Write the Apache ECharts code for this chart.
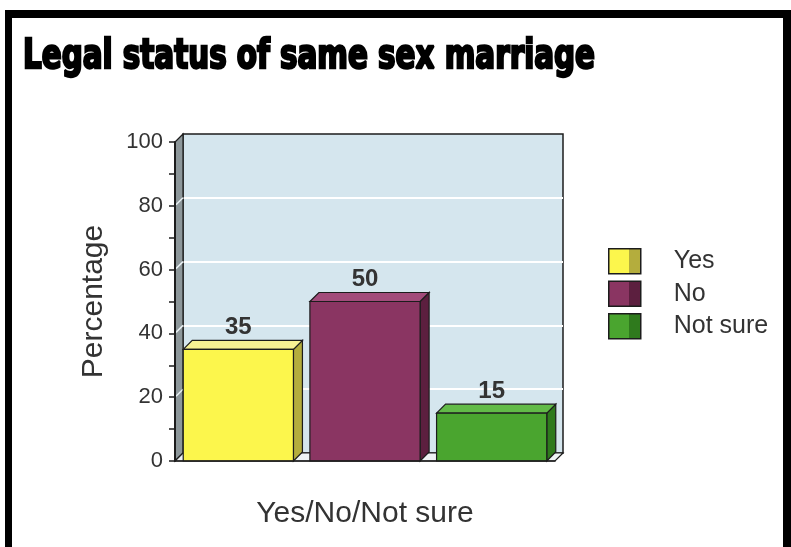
<!DOCTYPE html>
<html>
<head>
<meta charset="utf-8">
<title>Legal status of same sex marriage</title>
<script src="https://cdn.jsdelivr.net/npm/echarts@6/dist/echarts.min.js"></script>
<style>
  html, body { margin: 0; padding: 0; background: #fff; }
  #chart { width: 791px; height: 547px; }
</style>
</head>
<body>
<div id="chart"></div>
<script>
// ---- data ----
const titleText = 'Legal status of same sex marriage';
const categories = ['Yes', 'No', 'Not sure'];
const values = [35, 50, 15];
const yName = 'Percentage';
const xName = 'Yes/No/Not sure';
const yMin = 0;
const yMax = 100;
const yStep = 20;

// ---- styling ----
const faceColors = ['#fcf64c', '#8a3562', '#4aa52f'];
const topColors = ['#f7f193', '#a24b7a', '#62bb48'];
const sideColors = ['#b4ad3d', '#5c1f3f', '#2f7a1d'];
const ink = '#1c1c1c';
const textColor = '#333';
const sans = '"Liberation Sans", Arial, sans-serif';

// plot frame (front plane) and 3D depth
const plot = { left: 175, top: 142, width: 380, height: 319 };
const wallDepth = 8;
const barDepth = 9;
const barRatio = 0.87;

const chart = echarts.init(document.getElementById('chart'), null, { renderer: 'canvas' });

function swatch(i) {
  return new echarts.graphic.LinearGradient(0, 0, 1, 0, [
    { offset: 0, color: faceColors[i] },
    { offset: 0.62, color: faceColors[i] },
    { offset: 0.62, color: sideColors[i] },
    { offset: 1, color: sideColors[i] }
  ]);
}

function renderBox(params, api) {
  const i = params.seriesIndex;
  const top = api.coord([api.value(0), api.value(1)]);
  const base = api.coord([api.value(0), 0]);
  const bw = api.size([1, 0])[0] * barRatio;
  const x0 = top[0] - bw / 2;
  const x1 = x0 + bw;
  const y0 = top[1];
  const y1 = base[1];
  const d = barDepth;
  const edge = { stroke: ink, lineWidth: 1.2 };
  return {
    type: 'group',
    children: [
      { type: 'polygon', shape: { points: [[x1, y0], [x1 + d, y0 - d], [x1 + d, y1 - d], [x1, y1]] },
        style: Object.assign({ fill: sideColors[i] }, edge) },
      { type: 'polygon', shape: { points: [[x0, y0], [x0 + d, y0 - d], [x1 + d, y0 - d], [x1, y0]] },
        style: Object.assign({ fill: topColors[i] }, edge) },
      { type: 'rect', shape: { x: x0, y: y0, width: bw, height: y1 - y0 },
        style: Object.assign({ fill: faceColors[i] }, edge) },
      { type: 'text', x: top[0], y: y0 - 22,
        style: { text: String(api.value(1)), fill: textColor, font: 'bold 24px ' + sans,
                 align: 'center', verticalAlign: 'middle' } }
    ]
  };
}

const option = {
  animation: false,
  backgroundColor: '#fff',
  legend: {
    orient: 'vertical',
    left: 608,
    top: 248,
    padding: 0,
    itemWidth: 32,
    itemHeight: 25,
    itemGap: 6,
    selectedMode: false,
    textStyle: { fontSize: 25, color: textColor, fontFamily: sans, padding: [0, 0, 0, 28], lineHeight: 25 },
    data: categories.map((c, i) => ({
      name: c, icon: 'rect',
      itemStyle: { color: swatch(i), borderColor: ink, borderWidth: 1.5 }
    }))
  },
  grid: [
    { left: plot.left, top: plot.top, width: plot.width, height: plot.height },
    { left: plot.left + wallDepth, top: plot.top - wallDepth, width: plot.width, height: plot.height,
      show: true, backgroundColor: '#d5e6ee', borderColor: ink, borderWidth: 1.5 }
  ],
  xAxis: [
    { type: 'category', gridIndex: 0, data: categories, z: 5,
      axisLine: { show: true, lineStyle: { color: ink, width: 1.5 } },
      axisTick: { show: false }, axisLabel: { show: false },
      name: xName, nameLocation: 'middle', nameGap: 38,
      nameTextStyle: { fontSize: 30, color: textColor, fontFamily: sans } },
    { type: 'category', gridIndex: 1, data: categories, show: false }
  ],
  yAxis: [
    { type: 'value', gridIndex: 0, min: yMin, max: yMax, interval: yStep, z: 5,
      axisLine: { show: true, lineStyle: { color: ink, width: 2 } },
      axisTick: { show: true, length: 6, lineStyle: { color: ink, width: 1.5 } },
      minorTick: { show: true, splitNumber: 2, length: 6, lineStyle: { color: ink, width: 1.5 } },
      axisLabel: { fontSize: 22, color: textColor, fontFamily: sans, margin: 12 },
      splitLine: { show: false },
      name: yName, nameLocation: 'middle', nameGap: 66,
      nameTextStyle: { fontSize: 30, color: textColor, fontFamily: sans } },
    { type: 'value', gridIndex: 1, min: yMin, max: yMax, interval: yStep,
      axisLine: { show: false }, axisTick: { show: false }, axisLabel: { show: false },
      splitLine: { show: true, showMinLine: false, showMaxLine: false,
                   lineStyle: { color: '#ffffff', width: 2 } } }
  ],
  series: categories.map((c, i) => ({
    name: c,
    type: 'custom',
    xAxisIndex: 0,
    yAxisIndex: 0,
    z: 3,
    itemStyle: { color: faceColors[i] },
    encode: { x: 0, y: 1 },
    data: [[i, values[i]]],
    renderItem: renderBox
  }))
};

chart.setOption(option);

// ---- walls, floor, frame and title drawn around the plot ----
function px(v) { return chart.convertToPixel({ yAxisIndex: 0 }, v); }
const yTop = px(yMax);
const yBase = px(yMin);
const xL = plot.left;
const xR = plot.left + plot.width;
const d = wallDepth;

const deco = [];
// left side wall
deco.push({ type: 'polygon', z: 1,
  shape: { points: [[xL, yTop], [xL + d, yTop - d], [xL + d, yBase - d], [xL, yBase]] },
  style: { fill: '#8d979a', stroke: ink, lineWidth: 1.2 } });
// floor
deco.push({ type: 'polygon', z: 1,
  shape: { points: [[xL, yBase], [xR, yBase], [xR + d, yBase - d], [xL + d, yBase - d]] },
  style: { fill: '#eef3f5', stroke: ink, lineWidth: 1.2 } });
// gridlines continued across the side wall
for (let v = yMin + yStep; v < yMax; v += yStep) {
  const y = px(v);
  deco.push({ type: 'line', z: 1,
    shape: { x1: xL + 1, y1: y - 1, x2: xL + d, y2: y - d },
    style: { stroke: '#e9f1f4', lineWidth: 1.5 } });
}
// page frame
deco.push({ type: 'rect', z: 10, shape: { x: 5, y: 10, width: 786, height: 8 }, style: { fill: '#000' } });
deco.push({ type: 'rect', z: 10, shape: { x: 5, y: 10, width: 7, height: 537 }, style: { fill: '#000' } });
deco.push({ type: 'rect', z: 10, shape: { x: 783, y: 10, width: 8, height: 537 }, style: { fill: '#000' } });

// condensed heavy title, squeezed to its line width
const titleFont = 'bold 40px "DejaVu Sans Condensed", "DejaVu Sans", sans-serif';
const ctx = document.createElement('canvas').getContext('2d');
ctx.font = titleFont;
const titleWidth = 572;
const sx = titleWidth / ctx.measureText(titleText).width;
deco.push({ type: 'text', z: 10, x: 23, y: 58, scaleX: sx, scaleY: 1,
  style: { text: titleText, font: titleFont, fill: '#000', stroke: '#000', lineWidth: 2.4,
           lineJoin: 'round', align: 'left', verticalAlign: 'middle' } });

chart.setOption({ graphic: { elements: deco } });
</script>
</body>
</html>
